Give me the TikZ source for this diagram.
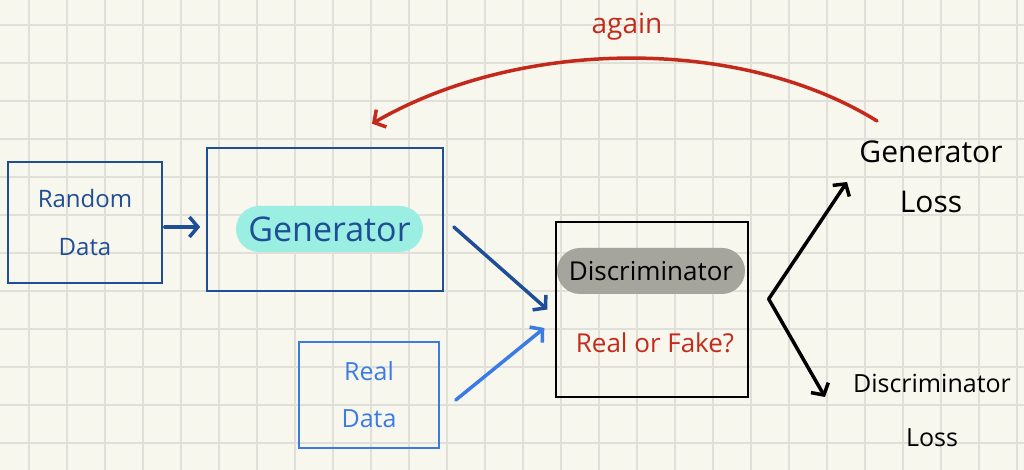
\documentclass[tikz,border=0pt]{standalone}
\usepackage{fontspec}
\setmainfont{Open Sans}
\usetikzlibrary{arrows.meta}

\definecolor{paper}{HTML}{F8F7ED}
\definecolor{gridgrey}{HTML}{E0DFDA}
\definecolor{darkblue}{HTML}{1F4E96}
\definecolor{lightblue}{HTML}{3A7BE6}
\definecolor{cyanmark}{HTML}{9AEFE2}
\definecolor{greymark}{HTML}{A5A49D}
\definecolor{pen red}{HTML}{C42A1C}

\begin{document}
\begin{tikzpicture}[
    x=1pt, y=1pt,
    box/.style={draw, line width=1.6pt, inner sep=0pt},
    pill/.style={rounded corners=23pt, minimum width=188pt, minimum height=46pt, inner sep=0pt},
    arr/.style={-{Straight Barb[length=8.5pt, width=20pt]}, line width=3.5pt, line cap=round, line join=round}
]

\fill[paper] (0,0) rectangle (1024,470);
\useasboundingbox (0,0) rectangle (1024,470);
\foreach \gx in {29,67,...,1017}
    \draw[gridgrey, line width=1.2pt] (\gx,0) -- (\gx,470);
\foreach \gy in {27,65,...,445}
    \draw[gridgrey, line width=1.2pt] (0,\gy) -- (1024,\gy);

\node[box, darkblue, text=darkblue, minimum width=154pt, minimum height=121pt, align=center,
      font=\fontsize{24}{48}\selectfont] (rand) at (85,247.5) {Random\\Data};
\node[box, darkblue, minimum width=236pt, minimum height=143pt] (gen) at (325,250.5) {};
\node[pill, fill=cyanmark, text=darkblue, minimum width=187pt, font=\fontsize{34}{38}\selectfont] (gentxt) at (329.5,241) {Generator};

\node[box, black, line width=1.4pt, minimum width=192pt, minimum height=175pt] (disc) at (652,160.5) {};
\node[pill, fill=greymark, font=\fontsize{26}{30}\selectfont] (disctxt) at (651,199) {Discriminator};
\node[text=pen red, font=\fontsize{26}{30}\selectfont] (fake) at (655,127) {Real or Fake?};

\node[box, lightblue, text=lightblue, minimum width=140pt, minimum height=106pt, align=center,
      font=\fontsize{25}{47}\selectfont] (real) at (369,75) {Real\\Data};

\node[align=center, font=\fontsize{30}{50}\selectfont] (genloss) at (931,293) {Generator\\Loss};
\node[align=center, font=\fontsize{25}{54}\selectfont] (discloss) at (932,60) {Discriminator\\Loss};
\node[text=pen red, font=\fontsize{28}{32}\selectfont] (again) at (627,443) {again};

\draw[arr, darkblue] ([shift={(2,-4.5)}]rand.east) -- ([shift={(-6,-7.5)}]gen.west);
\draw[arr, darkblue] ([shift={(10,-7.5)}]gen.east) -- ([shift={(-8,0)}]disc.west);
\draw[arr, lightblue] ([shift={(16,-5)}]real.east) -- ([shift={(-11,-18.5)}]disc.west);

% the two losses fork from one point
\coordinate (fork) at ([shift={(20,10.5)}]disc.east);
\draw[arr] (fork) -- ([shift={(-84,-5)}]genloss.center);
\draw[arr] (fork) -- ([shift={(-107,13)}]discloss.center);

\draw[arr, pen red] ([shift={(-54,56)}]genloss.center) .. controls (740,434) and (520,432) .. ([shift={(47,23.5)}]gen.north);

\end{tikzpicture}
\end{document}
